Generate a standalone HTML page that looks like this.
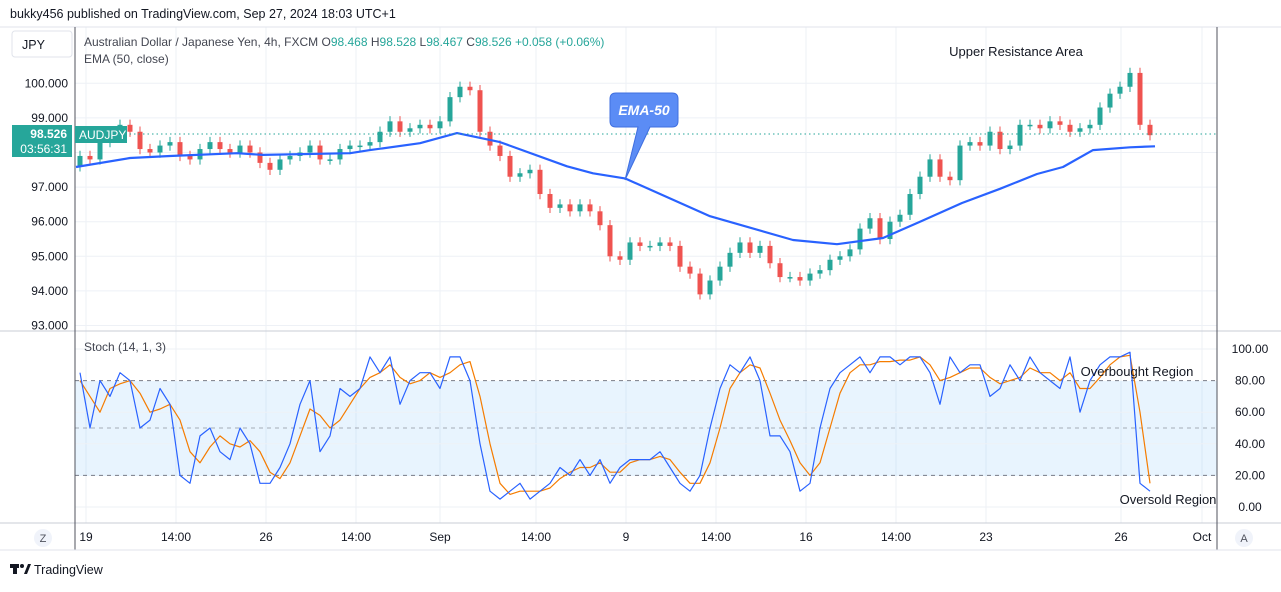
<!DOCTYPE html>
<html><head><meta charset="utf-8"><style>
body{margin:0;width:1281px;height:587px;background:#fff;overflow:hidden;font-family:"Liberation Sans",sans-serif}
svg text{font-family:"Liberation Sans",sans-serif}
</style></head><body>
<svg width="1281" height="587" viewBox="0 0 1281 587">
<g id="grid"></g>
<rect x="75" y="381" width="1142" height="95" fill="#2196f3" fill-opacity="0.1"/>
<g id="stochLines"></g>
<line x1="0" y1="27" x2="1281" y2="27" stroke="#e0e3eb"/>
<line x1="0" y1="331" x2="1281" y2="331" stroke="#c8ccd6"/>
<line x1="0" y1="523" x2="1281" y2="523" stroke="#c8ccd6"/>
<line x1="75" y1="27" x2="75" y2="550" stroke="#50535e"/>
<line x1="1217" y1="27" x2="1217" y2="550" stroke="#50535e"/>
<line x1="0" y1="550" x2="1281" y2="550" stroke="#e0e3eb"/>
<g id="candles"></g>
<path id="ema" fill="none" stroke="#2962ff" stroke-width="2.2" stroke-linejoin="round"/>
<line x1="80" y1="134" x2="1217" y2="134" stroke="#26a69a" stroke-dasharray="1.5,3"/>
<path id="stochD" fill="none" stroke="#f57c00" stroke-width="1.2" stroke-linejoin="round"/>
<path id="stochK" fill="none" stroke="#2962ff" stroke-width="1.2" stroke-linejoin="round"/>
<g id="yticks"></g>
<g id="sticks"></g>
<g id="xticks"></g>
<text x="10" y="18" font-size="12.5" fill="#131722">bukky456 published on TradingView.com, Sep 27, 2024 18:03 UTC+1</text>
<rect x="12" y="31" width="60" height="26" rx="3" fill="#fff" stroke="#e0e3eb"/>
<text x="22" y="49" font-size="12.5" fill="#131722">JPY</text>
<text x="84" y="46" font-size="12" fill="#434651">Australian Dollar / Japanese Yen, 4h, FXCM <tspan fill="#434651">O</tspan><tspan fill="#26a69a">98.468</tspan> H<tspan fill="#26a69a">98.528</tspan> L<tspan fill="#26a69a">98.467</tspan> C<tspan fill="#26a69a">98.526 +0.058 (+0.06%)</tspan></text>
<text x="84" y="63" font-size="12" fill="#434651">EMA (50, close)</text>
<text x="84" y="351" font-size="12" fill="#434651">Stoch (14, 1, 3)</text>
<rect x="12" y="125" width="60" height="32" fill="#26a69a"/>
<text x="67" y="138" font-size="12" fill="#fff" text-anchor="end" font-weight="bold">98.526</text>
<text x="67" y="153" font-size="12" fill="#fff" text-anchor="end">03:56:31</text>
<rect x="75" y="126" width="52" height="17" fill="#26a69a"/>
<text x="79" y="139" font-size="12" fill="#fff">AUDJPY</text>
<g>
<path d="M616,93 H672 Q678,93 678,99 V121 Q678,127 672,127 H650 L625,180 L638,127 H616 Q610,127 610,121 V99 Q610,93 616,93 Z" fill="#5b8cf5" stroke="#3f6fe0"/>
<text x="644" y="115" font-size="14" fill="#fff" font-style="italic" font-weight="bold" text-anchor="middle">EMA-50</text>
</g>
<text x="1016" y="56" font-size="13" fill="#131722" text-anchor="middle">Upper Resistance Area</text>
<text x="1137" y="376" font-size="13" fill="#131722" text-anchor="middle">Overbought Region</text>
<text x="1168" y="504" font-size="13" fill="#131722" text-anchor="middle">Oversold Region</text>
<circle cx="43" cy="538" r="9" fill="#f0f3fa"/>
<text x="43" y="542" font-size="11" fill="#50535e" text-anchor="middle">Z</text>
<circle cx="1244" cy="538" r="9" fill="#f0f3fa"/>
<text x="1244" y="542" font-size="11" fill="#50535e" text-anchor="middle">A</text>
<g>
<rect x="10" y="564" width="9" height="4" fill="#131722"/><rect x="13" y="564" width="4" height="10" fill="#131722"/><circle cx="22" cy="566" r="2" fill="#131722"/><path d="M24,574 L28,564 H31 L27,574 Z" fill="#131722"/>
<text x="34" y="574" font-size="12.5" fill="#131722">TradingView</text>
</g>
</svg>
<script>
const closes=[97.9,97.8,98.3,98.5,98.8,98.6,98.1,98.0,98.2,98.3,97.9,97.8,98.1,98.3,98.1,98.0,98.2,98.0,97.7,97.5,97.8,97.9,98.0,98.2,97.8,97.8,98.1,98.2,98.2,98.3,98.6,98.9,98.6,98.7,98.8,98.7,98.9,99.6,99.9,99.8,98.6,98.2,97.9,97.3,97.4,97.5,96.8,96.4,96.5,96.3,96.5,96.3,95.9,95.0,94.9,95.4,95.3,95.3,95.4,95.3,94.7,94.5,93.9,94.3,94.7,95.1,95.4,95.1,95.3,94.8,94.4,94.4,94.3,94.5,94.6,94.9,95.0,95.2,95.8,96.1,95.5,96.0,96.2,96.8,97.3,97.8,97.3,97.2,98.2,98.3,98.2,98.6,98.1,98.2,98.8,98.8,98.7,98.9,98.8,98.6,98.7,98.8,99.3,99.7,99.9,100.3,98.8,98.5];
const firstOpen=97.6;
const emaTimes=[76,130,170,237,263,350,370,420,457,500,567,593,625,710,793,837,883,920,962,1000,1037,1063,1093,1130,1155];
const emaValues=[97.58,97.84,97.9,97.98,97.93,97.98,98.07,98.27,98.56,98.3,97.6,97.4,97.25,96.16,95.47,95.35,95.53,96.0,96.54,96.95,97.38,97.58,98.07,98.15,98.18];
const stochK=[85,50,80,70,85,80,50,55,75,65,20,15,45,50,35,30,50,40,15,15,25,40,65,80,35,45,75,70,75,95,85,95,65,80,85,85,75,95,95,80,40,10,5,10,15,5,10,15,25,20,30,20,30,15,25,30,30,30,35,25,15,10,20,50,75,90,85,95,80,45,45,35,10,15,50,75,85,90,95,85,95,95,90,95,95,85,65,95,85,90,90,70,75,90,80,95,85,80,75,95,60,80,90,95,95,98,15,10];
const stochD=[80,70,60,75,78,80,72,60,62,65,55,35,28,38,45,40,38,42,35,22,18,28,45,62,58,50,55,65,75,82,85,90,82,78,80,85,82,85,90,92,70,40,15,8,10,10,10,12,18,22,25,25,28,22,22,28,30,30,32,30,22,15,15,28,50,75,85,90,88,72,55,42,28,20,28,50,72,85,90,90,92,92,93,93,95,90,80,82,85,88,88,82,78,80,82,88,85,85,80,85,75,75,82,90,95,96,60,15];
const ticks=[100,99,98,97,96,95,94,93];
const tickLabels=["100.000","99.000","98.000","97.000","96.000","95.000","94.000","93.000"];
const stochTicks=[100,80,60,40,20,0];
const stochTickLabels=["100.00","80.00","60.00","40.00","20.00","0.00"];
const timeLabels=["19","14:00","26","14:00","Sep","14:00","9","14:00","16","14:00","23","26","Oct"];
const timeIdx=[0.6,9.6,18.6,27.6,36,45.6,54.6,63.6,72.6,81.6,90.6,104.1,112.2];

const NS="http://www.w3.org/2000/svg";
const px=i=>80+i*10;
const py=p=>152.5-(p-98)*34.6;
const sy=v=>507-v*1.58;
function mk(t,a,parent){const e=document.createElementNS(NS,t);for(const k in a)e.setAttribute(k,a[k]);parent.appendChild(e);return e;}
const grid=document.getElementById('grid');
ticks.forEach(t=>{const l=mk('line',{x1:75,x2:1217,y1:py(t),y2:py(t),stroke:'#eef1f6'},grid);

});
timeIdx.forEach(i=>{const l=mk('line',{x1:px(i),x2:px(i),y1:27,y2:523,stroke:'#eef1f6'},grid);

});
const sl=document.getElementById('stochLines');
stochTicks.forEach(t=>{const dashed=(t===80||t===20);
const l=mk('line',{x1:75,x2:1217,y1:sy(t),y2:sy(t),stroke:dashed?'#787b86':'#eef1f6','stroke-dasharray':dashed?'4,4':'none'},sl);

});
const mid=mk('line',{x1:75,x2:1217,y1:sy(50),y2:sy(50),stroke:'#787b86','stroke-dasharray':'4,4','stroke-opacity':0.6},sl);


const cg=document.getElementById('candles');
closes.forEach((c,i)=>{const o=i?closes[i-1]:firstOpen;const up=c>=o;const col=up?'#26a69a':'#ef5350';
const hi=Math.max(o,c)+0.15,lo=Math.min(o,c)-0.15;const x=px(i);
const g=mk('g',{},cg);


mk('line',{x1:x,x2:x,y1:py(hi),y2:py(lo),stroke:col,'stroke-width':1},g);
const top=py(Math.max(o,c)),h=Math.max(1.5,Math.abs(py(o)-py(c)));
mk('rect',{x:x-2.5,y:top,width:5,height:h,fill:col},g);});
document.getElementById('ema').setAttribute('d',emaTimes.map((t,i)=>(i?'L':'M')+t+','+py(emaValues[i]).toFixed(1)).join(' '));
document.getElementById('stochK').setAttribute('d',stochK.map((v,i)=>(i?'L':'M')+px(i)+','+sy(v).toFixed(1)).join(' '));
document.getElementById('stochD').setAttribute('d',stochD.map((v,i)=>(i?'L':'M')+px(i)+','+sy(v).toFixed(1)).join(' '));
const yt=document.getElementById('yticks');
ticks.forEach((t,i)=>{if(t===98)return;const e=mk('text',{x:68,y:py(t)+4,'font-size':12,fill:'#131722','text-anchor':'end'},yt);e.textContent=tickLabels[i];

});
const st=document.getElementById('sticks');
stochTicks.forEach((t,i)=>{const e=mk('text',{x:1250,y:sy(t)+4,'font-size':12,fill:'#131722','text-anchor':'middle'},st);e.textContent=stochTickLabels[i];

});
const xt=document.getElementById('xticks');
timeLabels.forEach((l,i)=>{const e=mk('text',{x:px(timeIdx[i]),y:541,'font-size':12,fill:'#131722','text-anchor':'middle'},xt);e.textContent=l;

});
</script>
</body></html>
